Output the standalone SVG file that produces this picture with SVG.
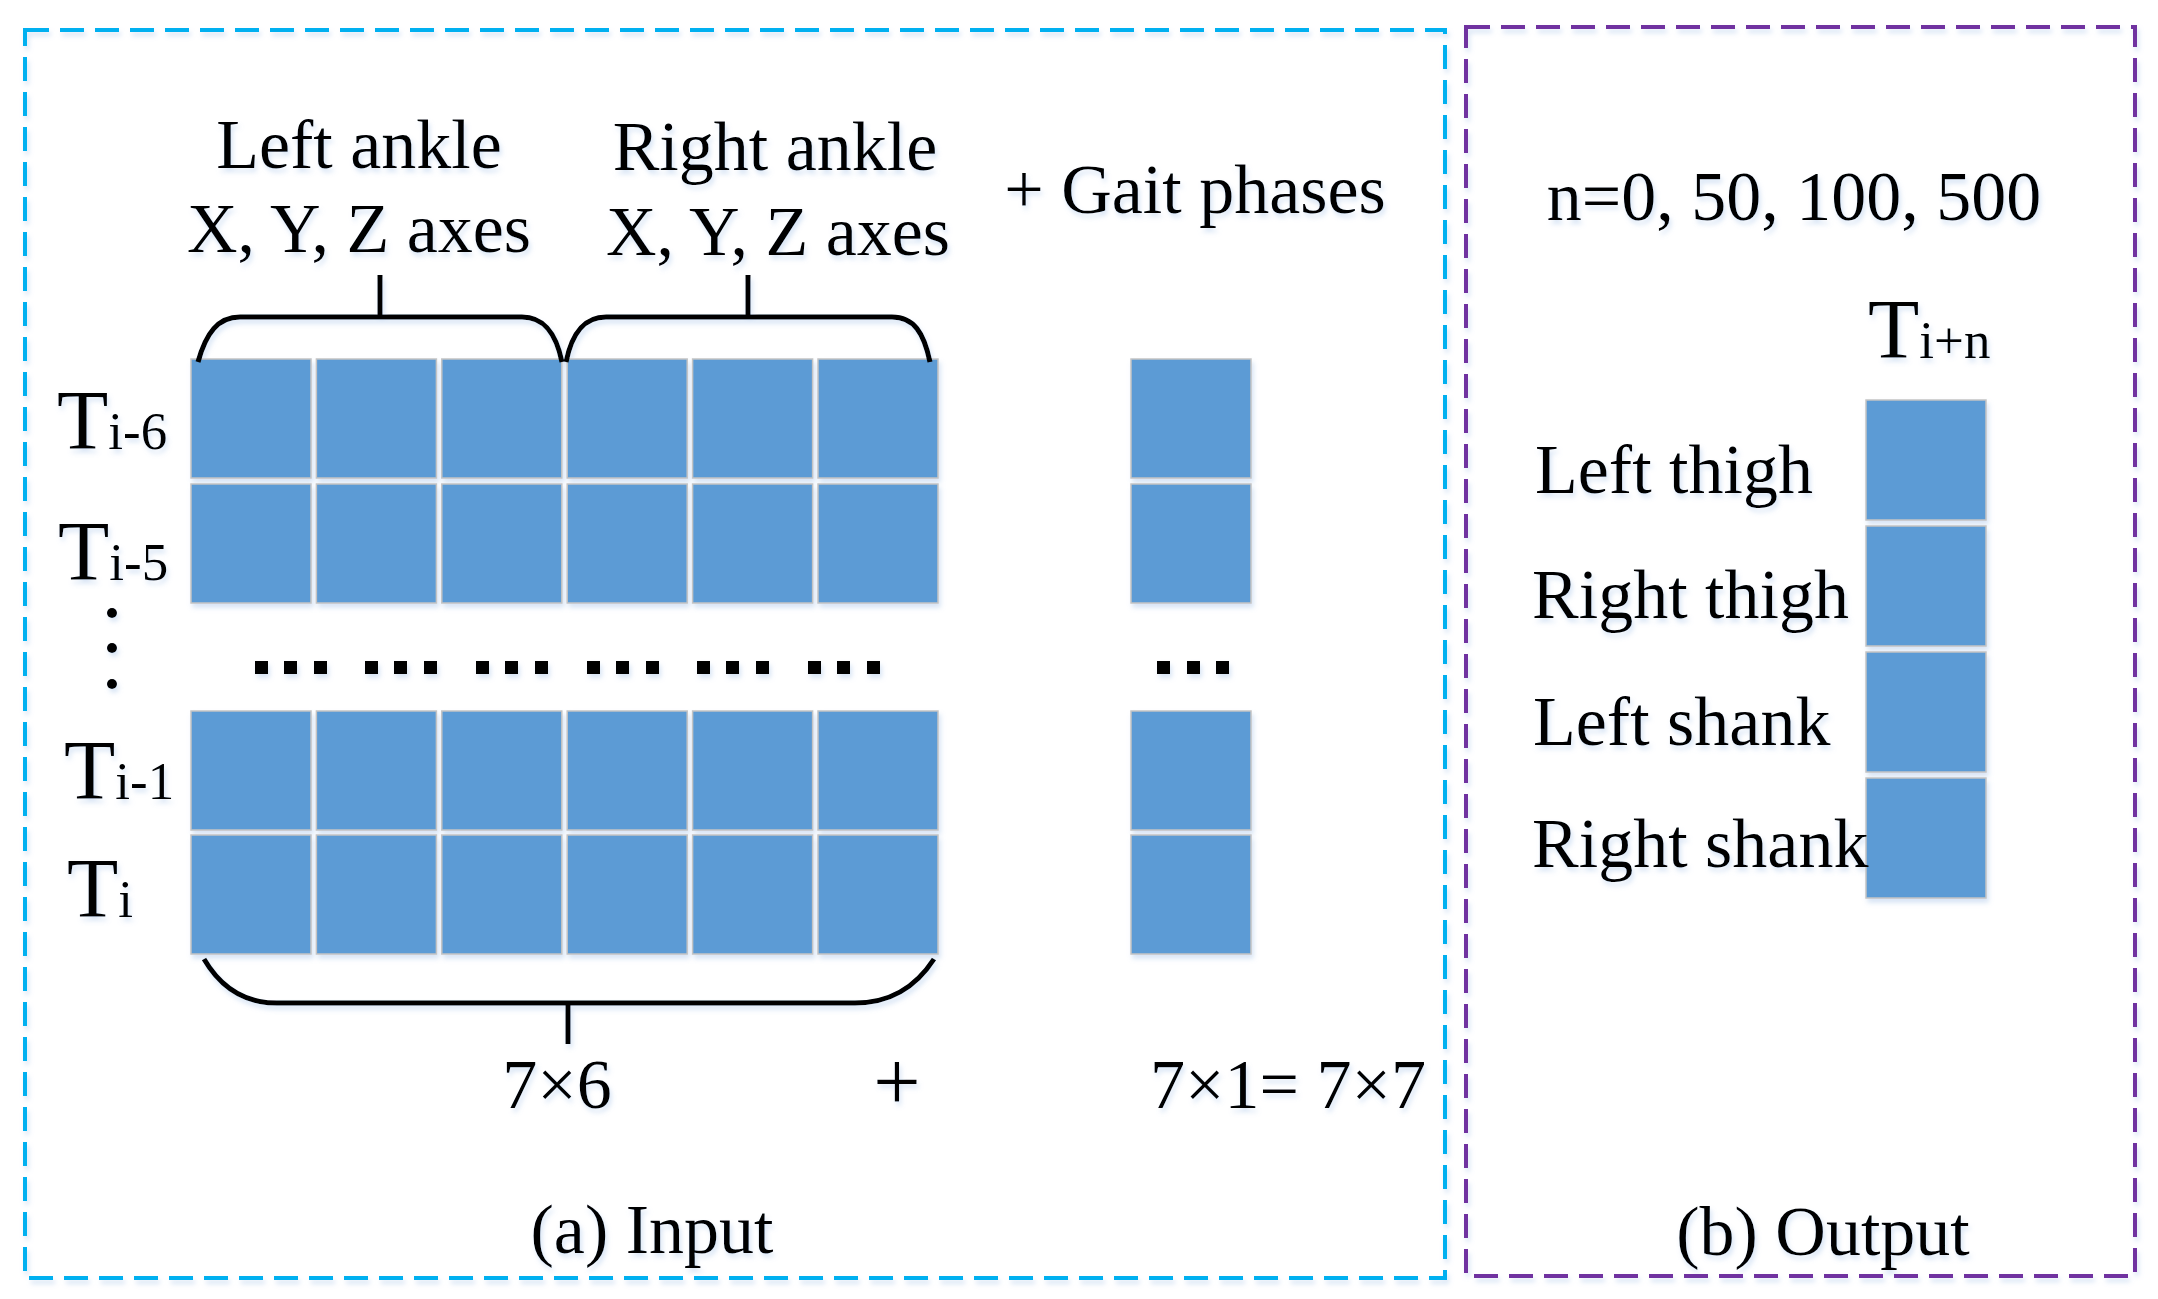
<svg xmlns="http://www.w3.org/2000/svg" width="2158" height="1299" viewBox="0 0 2158 1299">
  <defs>
    <style>
      .t { font-family: "Liberation Serif", "Times New Roman", serif; font-size: 70px; fill: #000; }
      .tl { font-family: "Liberation Serif", "Times New Roman", serif; font-size: 84px; fill: #000; }
      .sub { font-size: 53px; }
      .cell { fill: #5B9BD5; stroke: #C4C4C4; stroke-width: 1.5; }
      .brace { fill: none; stroke: #000; stroke-width: 5; }
      .dot { fill: #000; }
      .frameA { fill: none; stroke: #00B0F0; stroke-width: 4; stroke-dasharray: 24 11; }
      .frameB { fill: none; stroke: #7030A0; stroke-width: 4; stroke-dasharray: 24 11; }
    </style>
    <filter id="sh" x="-5%" y="-5%" width="110%" height="115%">
      <feDropShadow dx="2" dy="4" stdDeviation="2.5" flood-color="#8fb4e3" flood-opacity="0.35"/>
    </filter>
    <rect id="c" class="cell" width="120" height="119"/>
  </defs>
  <rect width="2158" height="1299" fill="#fff"/>
  <g filter="url(#sh)">
    <!-- Frames -->
    <g id="panel-input-frame">
      <rect class="frameA" x="25" y="30" width="1420" height="1248"/>
    </g>
    <g id="panel-output-frame">
      <rect class="frameB" x="1466" y="27" width="669" height="1249"/>
    </g>

    <!-- Headings -->
    <g id="label-left-ankle">
      <text class="t" x="359" y="168" text-anchor="middle">Left ankle</text>
      <text class="t" x="359" y="252" text-anchor="middle">X, Y, Z axes</text>
    </g>
    <g id="label-right-ankle">
      <text class="t" x="775" y="170" text-anchor="middle">Right ankle</text>
      <text class="t" x="778" y="255" text-anchor="middle">X, Y, Z axes</text>
    </g>
    <g id="label-gait">
      <text class="t" x="1195" y="213" text-anchor="middle">+ Gait phases</text>
    </g>
    <g id="label-n">
      <text class="t" x="1794" y="220" text-anchor="middle">n=0, 50, 100, 500</text>
    </g>

    <!-- Row labels -->
    <g id="row-labels">
      <text class="tl" x="57" y="449">T<tspan class="sub">i-6</tspan></text>
      <text class="tl" x="58" y="580">T<tspan class="sub">i-5</tspan></text>
      <circle class="dot" cx="112" cy="613" r="5"/>
      <circle class="dot" cx="112" cy="648" r="5"/>
      <circle class="dot" cx="112" cy="684" r="5"/>
      <text class="tl" x="64" y="799">T<tspan class="sub">i-1</tspan></text>
      <text class="tl" x="67" y="917">T<tspan class="sub">i</tspan></text>
    </g>

    <!-- Input grid -->
    <g id="input-grid">
      <use href="#c" x="191" y="359"/><use href="#c" x="316.4" y="359"/><use href="#c" x="441.8" y="359"/>
      <use href="#c" x="567.2" y="359"/><use href="#c" x="692.6" y="359"/><use href="#c" x="818" y="359"/>
      <use href="#c" x="191" y="484"/><use href="#c" x="316.4" y="484"/><use href="#c" x="441.8" y="484"/>
      <use href="#c" x="567.2" y="484"/><use href="#c" x="692.6" y="484"/><use href="#c" x="818" y="484"/>
      <use href="#c" x="191" y="711"/><use href="#c" x="316.4" y="711"/><use href="#c" x="441.8" y="711"/>
      <use href="#c" x="567.2" y="711"/><use href="#c" x="692.6" y="711"/><use href="#c" x="818" y="711"/>
      <use href="#c" x="191" y="835"/><use href="#c" x="316.4" y="835"/><use href="#c" x="441.8" y="835"/>
      <use href="#c" x="567.2" y="835"/><use href="#c" x="692.6" y="835"/><use href="#c" x="818" y="835"/>
    </g>
    <g id="input-ellipsis">
      <rect class="dot" x="255" y="661" width="13" height="13"/><rect class="dot" x="284" y="661" width="13" height="13"/><rect class="dot" x="314" y="661" width="13" height="13"/>
      <rect class="dot" x="365" y="661" width="13" height="13"/><rect class="dot" x="394" y="661" width="13" height="13"/><rect class="dot" x="424" y="661" width="13" height="13"/>
      <rect class="dot" x="476" y="661" width="13" height="13"/><rect class="dot" x="505" y="661" width="13" height="13"/><rect class="dot" x="535" y="661" width="13" height="13"/>
      <rect class="dot" x="587" y="661" width="13" height="13"/><rect class="dot" x="616" y="661" width="13" height="13"/><rect class="dot" x="646" y="661" width="13" height="13"/>
      <rect class="dot" x="697" y="661" width="13" height="13"/><rect class="dot" x="726" y="661" width="13" height="13"/><rect class="dot" x="756" y="661" width="13" height="13"/>
      <rect class="dot" x="808" y="661" width="13" height="13"/><rect class="dot" x="837" y="661" width="13" height="13"/><rect class="dot" x="867" y="661" width="13" height="13"/>
    </g>

    <!-- Gait column -->
    <g id="gait-column">
      <use href="#c" x="1131" y="359"/>
      <use href="#c" x="1131" y="484"/>
      <rect class="dot" x="1157" y="661" width="13" height="13"/><rect class="dot" x="1187" y="661" width="13" height="13"/><rect class="dot" x="1216" y="661" width="13" height="13"/>
      <use href="#c" x="1131" y="711"/>
      <use href="#c" x="1131" y="835"/>
    </g>

    <!-- Braces -->
    <g id="connectors">
      <path class="brace" d="M198,362 C206,333 218,317 240,317 L522,317 C544,317 556,333 562,362"/>
      <path class="brace" d="M380,317 V275"/>
      <path class="brace" d="M566,362 C572,333 584,317 606,317 L892,317 C914,317 924,333 930,362"/>
      <path class="brace" d="M748,317 V275"/>
      <path class="brace" d="M204,959 C222,990 247,1003 277,1003 L855,1003 C887,1003 914,990 934,959"/>
      <path class="brace" d="M568,1003 V1044"/>
    </g>

    <!-- Bottom formula -->
    <g id="formula">
      <text class="t" x="557" y="1108" text-anchor="middle">7×6</text>
      <text class="t" x="897" y="1110" text-anchor="middle" style="font-size:84px">+</text>
      <text class="t" x="1288" y="1108" text-anchor="middle">7×1= 7×7</text>
    </g>

    <!-- Output -->
    <g id="output-header">
      <text class="tl" x="1868" y="358">T<tspan class="sub">i+n</tspan></text>
    </g>
    <g id="output-column">
      <rect class="cell" x="1866" y="400" width="120" height="120"/>
      <rect class="cell" x="1866" y="526" width="120" height="120"/>
      <rect class="cell" x="1866" y="652" width="120" height="120"/>
      <rect class="cell" x="1866" y="778" width="120" height="120"/>
    </g>
    <g id="output-labels">
      <text class="t" x="1535" y="493">Left thigh</text>
      <text class="t" x="1532" y="618">Right thigh</text>
      <text class="t" x="1533" y="745">Left shank</text>
      <text class="t" x="1532" y="867">Right shank</text>
    </g>

    <!-- Captions -->
    <g id="caption-a">
      <text class="t" x="652" y="1253" text-anchor="middle">(a) Input</text>
    </g>
    <g id="caption-b">
      <text class="t" x="1823" y="1255" text-anchor="middle">(b) Output</text>
    </g>
  </g>
</svg>
